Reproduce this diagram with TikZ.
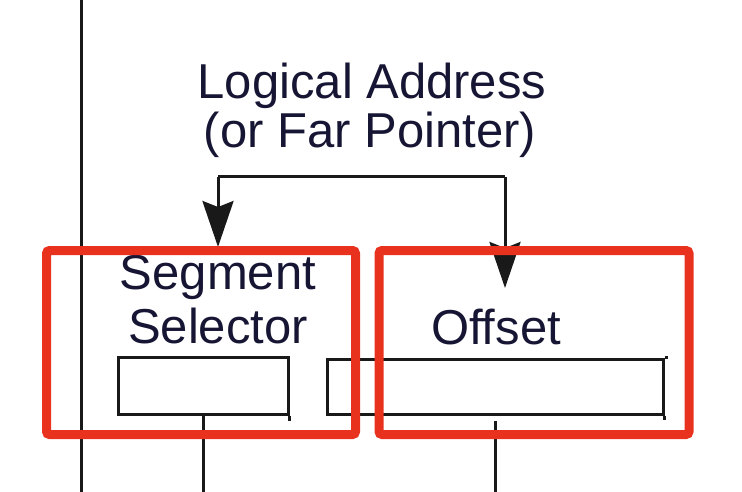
\documentclass[tikz,border=0pt]{standalone}
\usepackage{fontspec}
\setmainfont{Liberation Sans}
\usetikzlibrary{arrows.meta}
\definecolor{txtc}{RGB}{22,22,52}
\definecolor{linec}{RGB}{25,25,25}
\definecolor{hilite}{RGB}{232,50,30}
\tikzset{
  lbl/.style={anchor=base, inner sep=0pt, text=txtc, font=\fontsize{49pt}{49pt}\selectfont},
  wire/.style={draw=linec, line width=3pt},
  bigarrow/.style={-{Stealth[length=46pt, width=31pt, inset=6pt]}},
  field/.style={draw=linec, line width=3pt, inner sep=0pt, minimum height=57pt},
  mark box/.style={draw=hilite, line width=9pt, rounded corners=3pt}
}
\begin{document}
\begin{tikzpicture}[x=1pt, y=-1pt]
\useasboundingbox (0,0) rectangle (742,492);
% left border line
\coordinate (bt) at (81,0);
\coordinate (bb) at (81,492);
\draw[wire] (bt) -- (bb);
% title
\node[lbl] (titleA) at (372,99) {Logical Address};
\node[lbl] (titleB) at (370,148) {(or Far Pointer)};
% field labels
\node[lbl] (segA) at (218,289) {Segment};
\node[lbl] (segB) at (218,343) {Selector};
\node[lbl] (offL) at (496,344) {Offset};
% field boxes
\node[field, minimum width=170pt] (selbox) at (203,385.5) {};
\node[field, minimum width=336pt, minimum height=55pt] (offbox) at (495,386.5) {};
\draw[wire] (selbox.south east) -- ++(0,5);
\draw[wire] (offbox.north east) -- ++(3,0);
\draw[wire] (offbox.south east) -- ++(0,4);
% bracket from title
\coordinate (jl) at (218,177);
\coordinate (jr) at (505,177);
\coordinate (tipL) at (218,247);
\coordinate (tipR) at (505,288);
\draw[wire] (jl) -- (jr);
\draw[wire, bigarrow] (jl) -- (tipL);
\draw[wire, bigarrow] (jr) -- (tipR);
% lines down from fields
\coordinate (selend) at (201,492);
\coordinate (offend) at (496,492);
\draw[wire] (selbox.south) -- (selbox.south |- selend);
\draw[wire] ([yshift=-5pt]offbox.south) -- (offbox.south |- offend);
% highlight boxes
\node[mark box, minimum width=309pt, minimum height=184pt, inner sep=0pt] (hlL) at (201,342.5) {};
\node[mark box, minimum width=310pt, minimum height=184pt, inner sep=0pt] (hlR) at (534,342.5) {};
\end{tikzpicture}
\end{document}
